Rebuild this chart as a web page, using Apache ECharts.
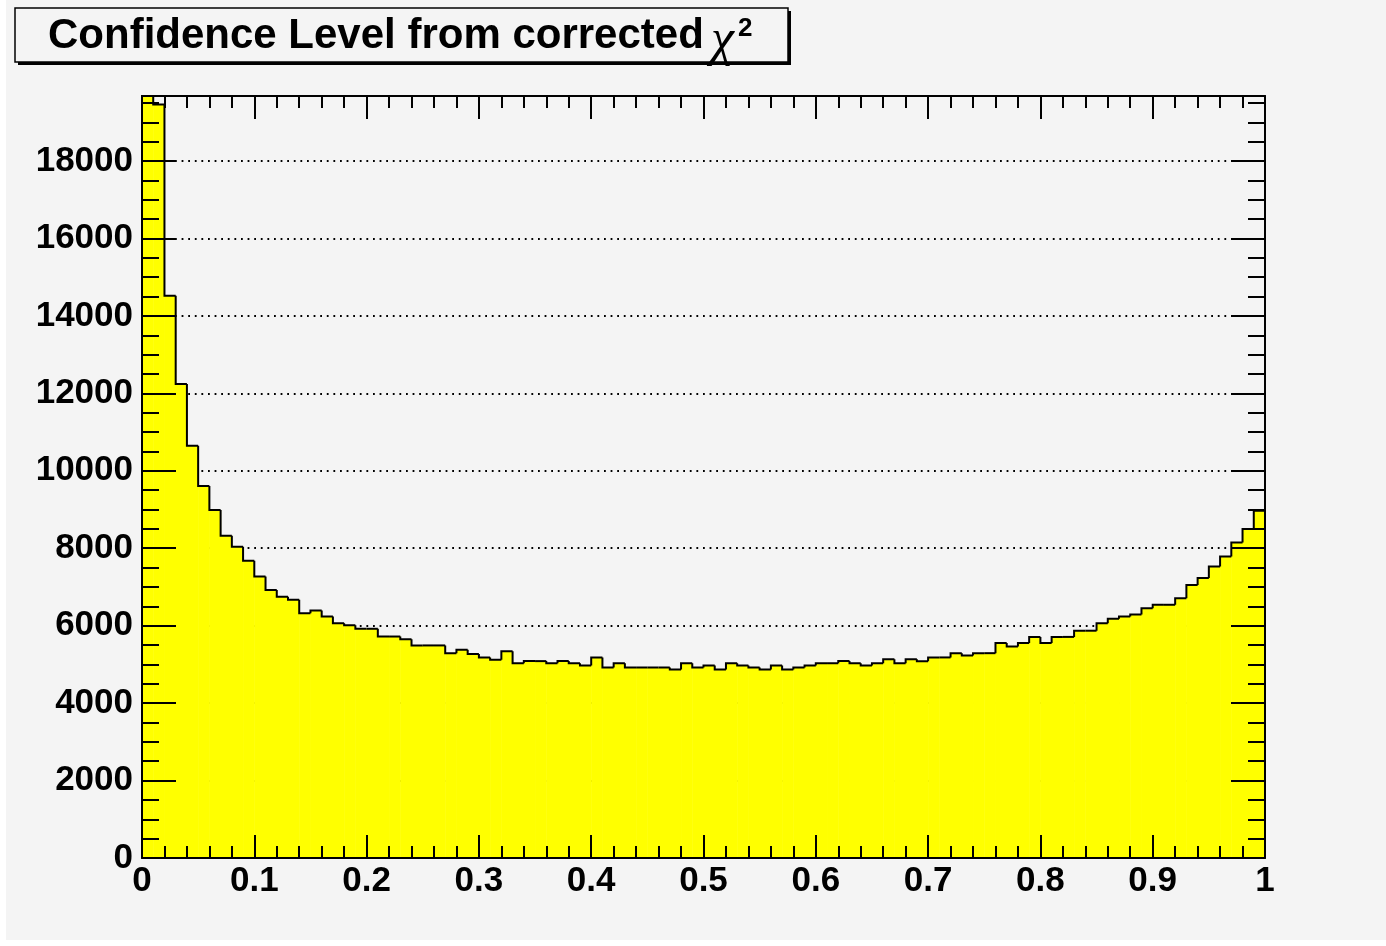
<!DOCTYPE html>
<html>
<head>
<meta charset="utf-8">
<title>Confidence Level from corrected chi2</title>
<script src="https://cdn.jsdelivr.net/npm/echarts@6/dist/echarts.min.js"></script>
<style>
    html, body { margin: 0; padding: 0; background: #ffffff; }
    #pad { position: absolute; left: 6px; top: 0; width: 1380px; height: 940px; background: #f4f4f4; }
    #chart { position: absolute; left: 0; top: 0; width: 1386px; height: 946px; }
</style>
</head>
<body>
<div id="pad"></div>
<div id="chart"></div>
<script>
    // histogram: 100 bins on [0, 1]
    var xMin = 0;
    var xMax = 1;
    var yMax = 19680;
    var counts = [
        20400, 19460, 14520, 12240, 10650, 9610, 8990, 8320, 8040, 7680,
        7270, 6920, 6750, 6670, 6320, 6390, 6240, 6060, 6010, 5920,
        5920, 5720, 5720, 5650, 5490, 5490, 5490, 5290, 5380, 5270,
        5180, 5120, 5340, 5030, 5085, 5085, 5030, 5090, 5030, 4970,
        5180, 4920, 5030, 4920, 4920, 4920, 4920, 4870, 5030, 4920,
        4970, 4870, 5030, 4970, 4920, 4870, 4970, 4870, 4920, 4970,
        5030, 5030, 5090, 5030, 4970, 5030, 5130, 5030, 5130, 5080,
        5180, 5180, 5290, 5230, 5290, 5290, 5550, 5460, 5550, 5710,
        5550, 5710, 5710, 5870, 5870, 6060, 6180, 6240, 6290, 6450,
        6540, 6540, 6710, 7050, 7230, 7530, 7790, 8150, 8500, 8970
    ];

    var titleText = 'Confidence Level from corrected';

    var binW = (xMax - xMin) / counts.length;
    // [lowEdge, highEdge, content, previous content]
    var bins = counts.map(function (c, i) {
        return [xMin + i * binW, xMin + (i + 1) * binW, c, i > 0 ? counts[i - 1] : 0];
    });

    var font = 'Liberation Sans, Arial, Helvetica, sans-serif';
    var extend = function (a, b) { for (var k in b) a[k] = b[k]; return a; };
    var lbl = { fontFamily: font, fontWeight: 'bold', fontSize: 35, color: '#000' };

    // one axis per tick size, so the ticks sit on top of the fill
    var xAx = function (pos, interval, len, withLabel) {
        return {
            type: 'value', min: xMin, max: xMax, interval: interval, position: pos, z: 5,
            axisLine: { show: withLabel !== undefined, onZero: false, lineStyle: { color: '#000', width: 2 } },
            axisTick: { show: true, inside: true, length: len, lineStyle: { color: '#000', width: 2 } },
            axisLabel: withLabel ? extend({ show: true, margin: 6 }, lbl) : { show: false },
            splitLine: { show: false }
        };
    };
    var yAx = function (pos, interval, len, withLabel) {
        return {
            type: 'value', min: 0, max: yMax, interval: interval, position: pos, z: 5,
            axisLine: { show: withLabel !== undefined, onZero: false, lineStyle: { color: '#000', width: 2 } },
            axisTick: { show: true, inside: true, length: len, lineStyle: { color: '#000', width: 2 } },
            axisLabel: withLabel ? extend({
                show: true, margin: 9, showMaxLabel: false, padding: [4, 0, 0, 0],
                formatter: function (v) { return v % 2000 === 0 ? String(v) : ''; }
            }, lbl) : { show: false },
            splitLine: { show: false }
        };
    };

    var renderBin = function (params, api) {
        var cs = params.coordSys;
        var top = cs.y;
        var clampY = function (y) { return Math.max(y, top); };
        var p0 = api.coord([api.value(0), api.value(2)]);
        var p1 = api.coord([api.value(1), api.value(2)]);
        var pPrev = api.coord([api.value(0), api.value(3)]);
        var base = api.coord([api.value(0), 0]);
        var y = clampY(p0[1]);
        var yPrev = clampY(pPrev[1]);
        return {
            type: 'group',
            children: [
                { type: 'rect', shape: { x: p0[0], y: y, width: p1[0] - p0[0] + 0.5, height: base[1] - y },
                  style: { fill: '#ffff00' } },
                { type: 'polyline', z2: 10,
                  shape: { points: [[p0[0], yPrev], [p0[0], y], [p1[0], y]] },
                  style: { stroke: '#000', lineWidth: 2, fill: null } }
            ]
        };
    };

    var chart = echarts.init(document.getElementById('chart'));
    chart.setOption({
        animation: false,
        backgroundColor: 'transparent',
        grid: { left: 142, top: 96, width: 1123, height: 762, containLabel: false },
        xAxis: [
            xAx('bottom', 0.1, 23, true),
            xAx('bottom', 0.02, 12),
            xAx('top', 0.1, 23, false),
            xAx('top', 0.02, 12)
        ],
        yAxis: [
            yAx('left', 2000, 34, true),
            yAx('left', 500, 17),
            yAx('right', 2000, 34, false),
            yAx('right', 500, 17),
            {
                type: 'value', min: 0, max: yMax, interval: 2000, position: 'left', z: 0,
                axisLine: { show: false }, axisTick: { show: false }, axisLabel: { show: false },
                splitLine: { show: true, lineStyle: { color: '#000', width: 1.8, type: [1.8, 4.8] } }
            }
        ],
        series: [{
            type: 'custom',
            xAxisIndex: 0,
            yAxisIndex: 0,
            z: 2,
            renderItem: renderBin,
            encode: { x: [0, 1], y: 2 },
            data: bins
        }],
        graphic: [
            { type: 'rect', z: 10, shape: { x: 18, y: 11, width: 773, height: 54 }, style: { fill: '#000' } },
            { type: 'rect', z: 11, shape: { x: 15, y: 8, width: 773, height: 54 },
              style: { fill: '#f4f4f4', stroke: '#000', lineWidth: 1.5 } },
            { type: 'text', z: 12, left: 48, top: 15,
              style: { text: titleText, fontFamily: font, fontWeight: 'bold', fontSize: 42, fill: '#000' } },
            { type: 'text', z: 12, left: 711, top: 15,
              style: { text: 'χ', fontFamily: 'Liberation Serif, DejaVu Serif, serif', fontStyle: 'italic', fontSize: 52, fill: '#000' } },
            { type: 'text', z: 12, left: 738, top: 16,
              style: { text: '2', fontFamily: font, fontWeight: 'bold', fontSize: 26, fill: '#000' } }
        ]
    });
</script>
</body>
</html>
